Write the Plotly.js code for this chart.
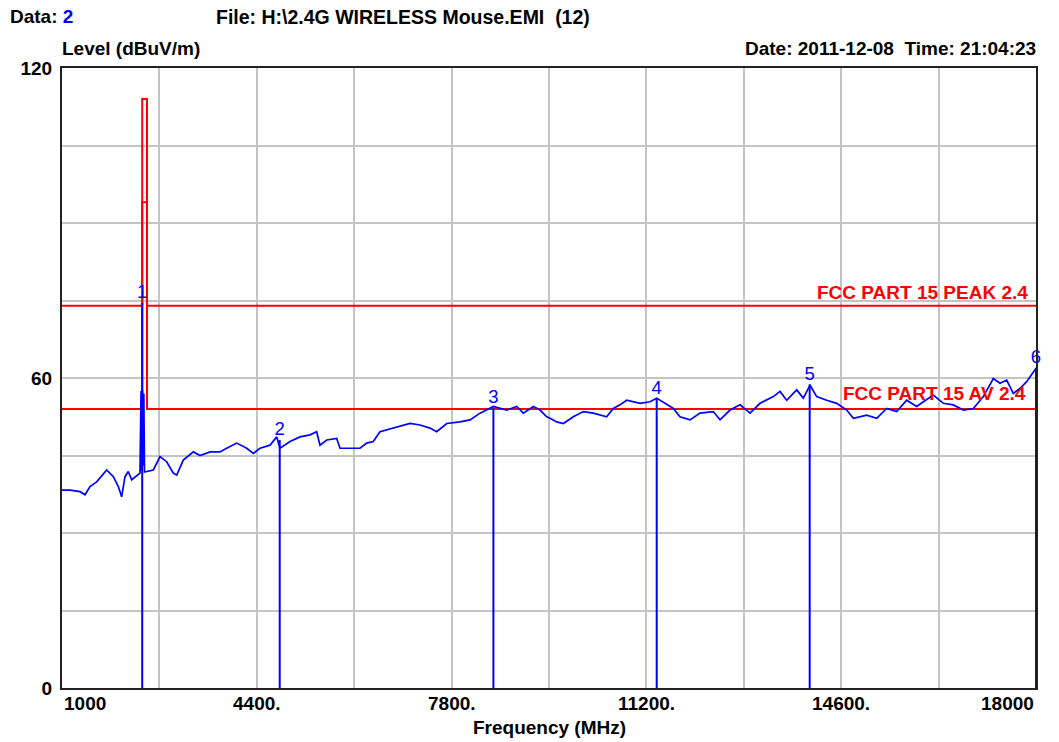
<!DOCTYPE html>
<html>
<head>
<meta charset="utf-8">
<script src="https://cdn.plot.ly/plotly-3.0.1.min.js"></script>
<style>
  html, body { margin: 0; padding: 0; background: #fff; }
  #chart { width: 1059px; height: 742px; }
</style>
</head>
<body>
<div id="chart"></div>
<script>
// ---- Data ----
const traceFreq = [1000,1140,1314,1401,1489,1605,1780,1896,1983,2041,2100,2157,2216,2361,2380,2392,2404,2416,2428,2440,
  2594,2710,2827,2943,3002,3117,3292,3409,3583,3758,3874,4049,4224,4339,4456,4630,4747,4805,4980,5154,
  5329,5445,5503,5620,5795,5852,6027,6201,6318,6433,6550,6783,7074,7249,7423,7540,7715,7947,8121,8296,
  8528,8761,8936,9052,9226,9343,9460,9518,9634,9750,9924,10099,10273,10506,10622,10739,10856,11088,11263,11380,
  11554,11670,11786,11961,12136,12368,12485,12660,12834,13009,13183,13416,13532,13649,13823,13939,14056,14172,14347,14521,
  14696,14812,15045,15220,15394,15569,15743,15918,16034,16208,16383,16557,16732,16906,17081,17255,17372,17488,17604,17721,
  17837,18000];
const traceLevel = [38.3,38.3,38.0,37.4,39.0,39.9,42.2,40.9,39.0,37.0,40.9,41.9,40.3,41.6,57.5,42.0,57.7,43.0,57.0,41.8,
  42.2,44.8,43.8,41.6,41.2,44.1,45.7,45.0,45.7,45.7,46.4,47.4,46.4,45.4,46.4,47.0,48.6,46.4,47.7,48.6,
  49.0,49.6,47.0,48.0,48.3,46.4,46.4,46.4,47.4,47.7,49.6,50.3,51.2,50.9,50.3,49.6,51.2,51.5,51.9,53.2,
  54.5,53.8,54.5,53.2,54.5,53.8,52.5,52.2,51.5,51.2,52.5,53.5,53.2,52.5,54.1,54.8,55.7,55.1,55.4,56.1,
  54.8,54.1,52.5,51.9,53.2,53.5,51.9,53.8,54.8,53.2,55.1,56.4,57.4,55.7,57.7,56.1,58.6,56.4,55.7,55.1,
  53.8,52.2,52.8,52.2,54.1,53.5,55.7,54.5,55.4,56.7,55.1,54.8,53.8,54.1,56.4,59.9,59.0,59.6,57.0,58.0,
  59.3,61.9];

const markerFreq  = [2400, 4800, 8530, 11380, 14050, 18000];
const markerLevel = [74.5, 48.0, 54.3, 56.0, 58.8, 62.0];
const markerLabel = ['1','2','3','4','5','6'];

const limitFreq  = [1000, 2400, 2400, 2483.5, 2483.5, 18000];
const peakLimit  = [74, 74, 114, 114, 74, 74];
const avLimit    = [54, 54, 94, 94, 54, 54];
const peakLimitLabel = 'FCC PART 15 PEAK 2.4';
const avLimitLabel   = 'FCC PART 15 AV 2.4';

const xTickVals  = [1000, 4400, 7800, 11200, 14600, 18000];
const xTickText  = ['1000', '4400.', '7800.', '11200.', '14600.', '18000'];
const yTickVals  = [0, 15, 30, 45, 60, 75, 90, 105, 120];
const yTickText  = ['0', '', '', '', '60', '', '', '', '120'];

// ---- Build figure ----
const FONT = 'Liberation Sans, Arial, sans-serif';
const BLUE = '#0000ff';
const RED = '#ff0000';

// marker stems as one segmented line
const stemX = [], stemY = [];
markerFreq.forEach((f, i) => { stemX.push(f, f, null); stemY.push(0, markerLevel[i], null); });

const traces = [
  { x: limitFreq, y: peakLimit, mode: 'lines', line: { color: RED, width: 2 }, hoverinfo: 'skip', showlegend: false },
  { x: limitFreq, y: avLimit, mode: 'lines', line: { color: RED, width: 2 }, hoverinfo: 'skip', showlegend: false },
  { x: stemX, y: stemY, mode: 'lines', line: { color: BLUE, width: 2 }, hoverinfo: 'skip', showlegend: false, connectgaps: false },
  { x: traceFreq, y: traceLevel, mode: 'lines', line: { color: BLUE, width: 1.7 }, hoverinfo: 'skip', showlegend: false },
  { x: markerFreq, y: markerLevel, mode: 'text', text: markerLabel, textposition: 'top center',
    textfont: { family: FONT, size: 18.5, color: BLUE }, cliponaxis: false, hoverinfo: 'skip', showlegend: false }
];

// x tick labels as annotations (first left-aligned, last right-aligned)
const annotations = [];
xTickVals.forEach((v, i) => {
  annotations.push({
    x: v, xref: 'x', y: -0.005, yref: 'paper', yanchor: 'top',
    xanchor: i === 0 ? 'left' : (i === xTickVals.length - 1 ? 'right' : 'center'),
    text: xTickText[i], showarrow: false,
    font: { family: FONT, size: 19, color: '#000', weight: 'bold' }
  });
});

function px(xp) { return (xp - 62) / 974; }
function py(yp) { return (688 - yp) / 620; }

annotations.push(
  { x: px(8), y: py(17), xref: 'paper', yref: 'paper', xanchor: 'left', yanchor: 'middle', showarrow: false,
    text: 'Data: <span style="color:#0000ff">2</span>', font: { family: FONT, size: 19, color: '#000', weight: 'bold' } },
  { x: px(214), y: py(17), xref: 'paper', yref: 'paper', xanchor: 'left', yanchor: 'middle', showarrow: false,
    text: 'File: H:\\2.4G WIRELESS Mouse.EMI\u00a0\u00a0(12)', font: { family: FONT, size: 19.5, color: '#000', weight: 'bold' } },
  { x: px(60), y: py(48), xref: 'paper', yref: 'paper', xanchor: 'left', yanchor: 'middle', showarrow: false,
    text: 'Level (dBuV/m)', font: { family: FONT, size: 19, color: '#000', weight: 'bold' } },
  { x: px(1038), y: py(48), xref: 'paper', yref: 'paper', xanchor: 'right', yanchor: 'middle', showarrow: false,
    text: 'Date: 2011-12-08\u00a0\u00a0Time: 21:04:23', font: { family: FONT, size: 19, color: '#000', weight: 'bold' } },
  { x: 0.5, y: py(727), xref: 'paper', yref: 'paper', xanchor: 'center', yanchor: 'middle', showarrow: false,
    text: 'Frequency (MHz)', font: { family: FONT, size: 19, color: '#000', weight: 'bold' } },
  { x: 18000, xref: 'x', y: peakLimit[peakLimit.length - 1], yref: 'y', xanchor: 'right', yanchor: 'bottom', xshift: -6, yshift: 1,
    showarrow: false, text: peakLimitLabel, font: { family: FONT, size: 19, color: RED, weight: 'bold' } },
  { x: 18000, xref: 'x', y: avLimit[avLimit.length - 1], yref: 'y', xanchor: 'right', yanchor: 'bottom', xshift: -8, yshift: 3,
    showarrow: false, text: avLimitLabel, font: { family: FONT, size: 19, color: RED, weight: 'bold' } }
);

const layout = {
  width: 1059, height: 742,
  margin: { l: 62, r: 23, t: 68, b: 54, pad: 0 },
  paper_bgcolor: '#fff', plot_bgcolor: '#fff',
  showlegend: false,
  xaxis: {
    range: [1000, 18000], tick0: 1000, dtick: 1700, tickmode: 'linear',
    showgrid: true, gridcolor: '#c4c4c4', gridwidth: 2,
    showticklabels: false, ticks: '', zeroline: false,
    showline: true, linecolor: '#222', linewidth: 2, mirror: true, fixedrange: true
  },
  yaxis: {
    range: [0, 120], tickmode: 'array', tickvals: yTickVals, ticktext: yTickText,
    showgrid: true, gridcolor: '#c4c4c4', gridwidth: 2, ticks: '', ticklabelstandoff: 4,
    tickfont: { family: FONT, size: 19, color: '#000', weight: 'bold' },
    zeroline: false, showline: true, linecolor: '#222', linewidth: 2, mirror: true, fixedrange: true
  },
  annotations: annotations
};

Plotly.newPlot('chart', traces, layout, { staticPlot: true, displayModeBar: false });
</script>
</body>
</html>
